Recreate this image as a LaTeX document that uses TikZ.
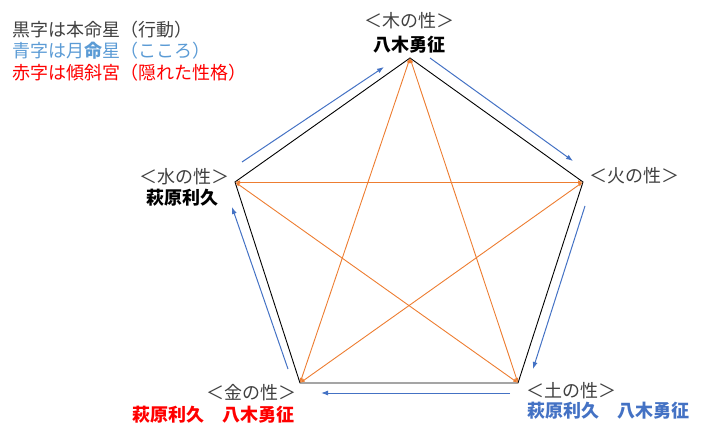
\documentclass[tikz,border=0pt]{standalone}
\usepackage{fontspec}
\setmainfont{Noto Sans CJK JP}
\usetikzlibrary{arrows.meta}
\definecolor{txtgray}{HTML}{404040}
\definecolor{lblue}{HTML}{5B9BD5}
\definecolor{dblue}{HTML}{4472C4}
\definecolor{ored}{HTML}{FF0000}
\definecolor{orng}{HTML}{ED7D31}
\begin{document}
\begin{tikzpicture}[x=1pt,y=-1pt,
  lbl/.style={font=\fontsize{18}{20}\selectfont, text=txtgray, inner sep=0pt},
  nm/.style={font=\fontsize{18}{20}\selectfont\bfseries, inner sep=0pt},
  leg/.style={font=\fontsize{18}{20}\selectfont, inner sep=0pt, anchor=west},
  edge/.style={black, line width=0.9pt},
  star/.style={orng, line width=0.9pt, {Latex[length=5pt,width=3.5pt]}-{Latex[length=5pt,width=3.5pt]}},
  flow/.style={dblue, line width=1pt, -{Latex[length=7pt,width=5pt]}}]
\useasboundingbox (0,0) rectangle (716,433);
% vertices
\coordinate (T) at (410,58);
\coordinate (L) at (235,182);
\coordinate (R) at (583,182);
\coordinate (BL) at (300,383);
\coordinate (BR) at (518,383);
% pentagon
\draw[edge] (T) -- (R) -- (BR) -- (BL) -- (L) -- cycle;
% star
\draw[star] (T) -- (BL);
\draw[star] (T) -- (BR);
\draw[star] (L) -- (R);
\draw[star] (L) -- (BR);
\draw[star] (R) -- (BL);
% flow arrows
\coordinate (a1) at (242,162); \coordinate (a2) at (384,67);
\coordinate (b1) at (430,58); \coordinate (b2) at (573,161);
\coordinate (c1) at (585,206); \coordinate (c2) at (533,369);
\coordinate (d1) at (510,393); \coordinate (d2) at (321,393);
\coordinate (e1) at (288,369); \coordinate (e2) at (232,207);
\draw[flow] (a1) -- (a2);
\draw[flow] (b1) -- (b2);
\draw[flow] (c1) -- (c2);
\draw[flow] (d1) -- (d2);
\draw[flow] (e1) -- (e2);
% legend
\node[leg, text=txtgray] (g1) at (12,29.5) {黒字は本命星（行動）};
\node[leg, text=lblue] (g2) at (12,50.5) {青字は月{\bfseries 命}星（こころ）};
\node[leg, text=ored] (g3) at (12,72.5) {赤字は傾斜宮（隠れた性格）};
% labels
\node[lbl] (tw) at (409,21) {＜木の性＞};
\node[nm] (tn) at (409,44.5) {八木勇征};
\node[lbl] (lw) at (184,177) {＜水の性＞};
\node[nm] (ln) at (182,198) {萩原利久};
\node[lbl] (rw) at (634.5,176) {＜火の性＞};
\node[lbl] (blw) at (251,393) {＜金の性＞};
\node[nm, text=ored] (bln) at (213,415) {萩原利久　八木勇征};
\node[lbl] (brw) at (571,391) {＜土の性＞};
\node[nm, text=dblue] (brn) at (608,411) {萩原利久　八木勇征};
\end{tikzpicture}
\end{document}
